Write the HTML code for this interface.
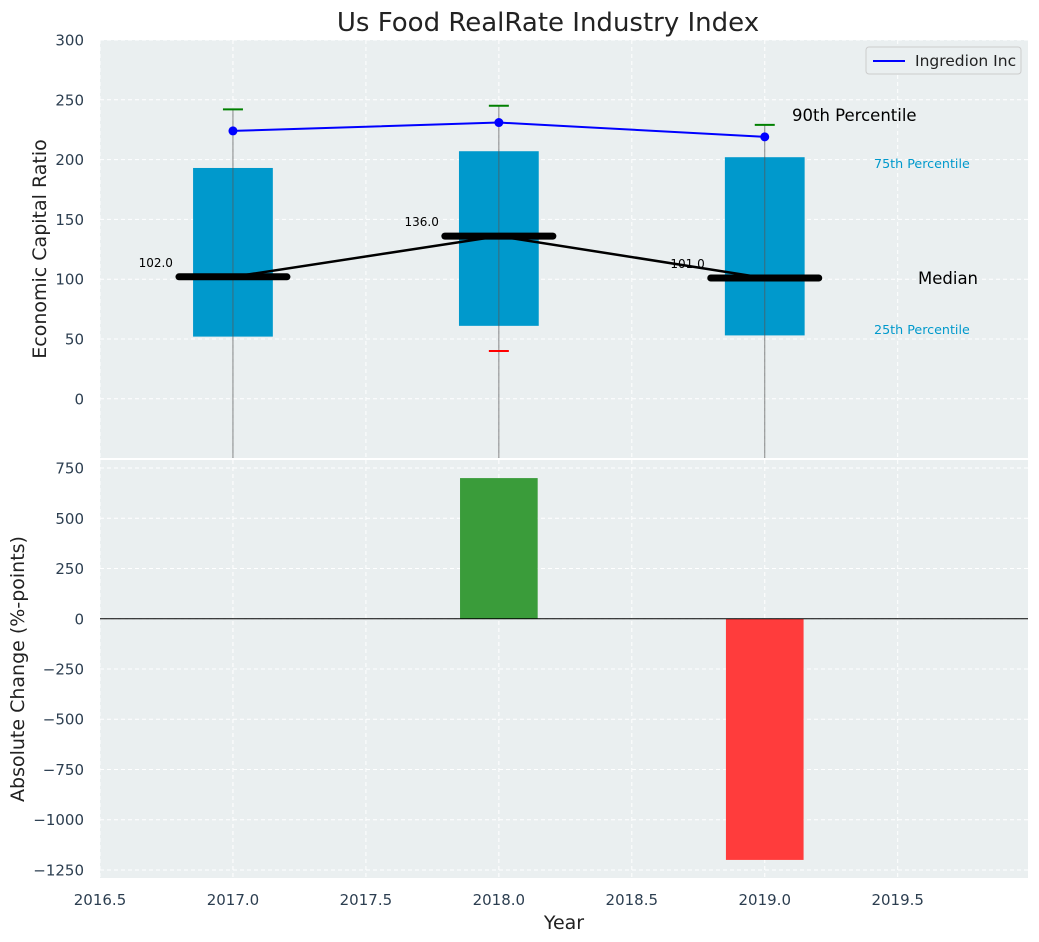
<!DOCTYPE html>
<html><head><meta charset="utf-8"><style>
body{margin:0;background:#fff;}
svg{display:block;font-family:"DejaVu Sans","Liberation Sans",sans-serif;}
</style></head><body>
<svg id="chart" width="1039" height="942" xmlns="http://www.w3.org/2000/svg">
<text x="548" y="31" font-size="26" text-anchor="middle" fill="#222">Us Food RealRate Industry Index</text>
<g id="topPanel"></g>
<g id="botPanel"></g>
</svg>
<script>
const years=[2017,2018,2019];
const q25=[52,61,53];
const q75=[193,207,202];
const medians=[102,136,101];
const p90=[242,245,229];
const p10=[null,40,null];
const company=[224,231,219];
const changeYears=[2018,2019];
const changes=[700,-1200];
const xTicks=[2016.5,2017,2017.5,2018,2018.5,2019,2019.5];
const yTopTicks=[0,50,100,150,200,250,300];
const yBotTicks=[-1250,-1000,-750,-500,-250,0,250,500,750];

const NS="http://www.w3.org/2000/svg";
const L=100,R=1028;
const xs=v=>L+(v-2016.5)/(2019.99-2016.5)*(R-L);
const T0=40,T1=458,ysT=v=>T0+(300-v)/(300-(-49.5))*(T1-T0);
const B0=460,B1=878,ysB=v=>B0+(790-v)/(790-(-1290))*(B1-B0);
function el(p,tag,a,txt){const e=document.createElementNS(NS,tag);for(const k in a)e.setAttribute(k,a[k]);if(txt!=null)e.textContent=txt;p.appendChild(e);return e;}
const svgRoot=document.getElementById('chart');
const topG=document.getElementById('topPanel'),botG=document.getElementById('botPanel');
function fmt(t){return t<0?'\u2212'+Math.abs(t):String(t);}
function panel(g,y0,y1,yt,ys,name){
  const bg=el(g,'rect',{x:L,y:y0,width:R-L,height:y1-y0,fill:'#eaeff0'});
  
  
  xTicks.forEach(t=>{const l=el(g,'line',{x1:xs(t),x2:xs(t),y1:y0,y2:y1,stroke:'#fff','stroke-dasharray':'4,3','stroke-width':1});
    
    });
  yt.forEach(t=>{const y=ys(t);const l=el(g,'line',{x1:L,x2:R,y1:y,y2:y,stroke:'#fff','stroke-dasharray':'4,3','stroke-width':1});
    
    
    const tx=el(g,'text',{x:L-16,y:y+5.5,'font-size':15,'text-anchor':'end',fill:'#2c3e50'},fmt(t));
    
    });
}
panel(topG,T0,T1,yTopTicks,ysT,'top');
panel(botG,B0,B1,yBotTicks,ysB,'bottom');
const bw=0.3;
years.forEach((yr,i)=>{
  const x=xs(yr),w=xs(yr+bw/2)-xs(yr-bw/2);
  const b=el(topG,'rect',{x:x-w/2,y:ysT(q75[i]),width:w,height:ysT(q25[i])-ysT(q75[i]),fill:'#0099cc'});
  
  
  const wl=el(topG,'line',{x1:x,x2:x,y1:T1,y2:ysT(p90[i]),stroke:'#555','stroke-opacity':0.7,'stroke-width':1});
  
  
  const c=el(topG,'line',{x1:x-10,x2:x+10,y1:ysT(p90[i]),y2:ysT(p90[i]),stroke:'green','stroke-width':2});
  
  
  if(p10[i]!=null){const c2=el(topG,'line',{x1:x-10,x2:x+10,y1:ysT(p10[i]),y2:ysT(p10[i]),stroke:'red','stroke-width':2});
    
    }
});
const mp=el(topG,'polyline',{points:years.map((y,i)=>xs(y)+','+ysT(medians[i])).join(' '),fill:'none',stroke:'#000','stroke-width':2.5});


years.forEach((yr,i)=>{
  const x=xs(yr),y=ysT(medians[i]);
  const m=el(topG,'line',{x1:x-54,x2:x+54,y1:y,y2:y,stroke:'#000','stroke-width':7,'stroke-linecap':'round'});
  
  
  const t=el(topG,'text',{x:x-60,y:y-10,'font-size':12,'text-anchor':'end',fill:'#000'},medians[i].toFixed(1));
  
  
});
const cl=el(topG,'polyline',{points:years.map((y,i)=>xs(y)+','+ysT(company[i])).join(' '),fill:'none',stroke:'blue','stroke-width':2});


years.forEach((yr,i)=>{const d=el(topG,'circle',{cx:xs(yr),cy:ysT(company[i]),r:4.5,fill:'blue'});
  
  });
[['90th Percentile',792,121,16.5,'#000'],['75th Percentile',874,168,12.7,'#0099cc'],['Median',918,284,16.5,'#000'],['25th Percentile',874,334,12.7,'#0099cc']].forEach(a=>{
  const t=el(topG,'text',{x:a[1],y:a[2],'font-size':a[3],fill:a[4]},a[0]);
  
  });
const lg=el(topG,'g',{});


el(lg,'rect',{x:866,y:47,width:155,height:27,rx:3,fill:'#eaeff0',stroke:'#ccc'});
el(lg,'line',{x1:873,x2:905,y1:61,y2:61,stroke:'blue','stroke-width':2});
el(lg,'text',{x:915,y:66,'font-size':15.5,fill:'#222'},'Ingredion Inc');
changeYears.forEach((yr,i)=>{
  const x=xs(yr),w=xs(yr+0.146)-xs(yr-0.146),v=changes[i];
  const r=el(botG,'rect',{x:x-w/2,y:Math.min(ysB(v),ysB(0)),width:w,height:Math.abs(ysB(v)-ysB(0)),fill:v>=0?'#3a9c3a':'#ff3c3c'});
  
  
});
const z=el(botG,'line',{x1:L,x2:R,y1:ysB(0),y2:ysB(0),stroke:'#000','stroke-width':1});


xTicks.forEach(t=>{const tx=el(botG,'text',{x:xs(t),y:905,'font-size':15,'text-anchor':'middle',fill:'#2c3e50'},t.toFixed(1));
  
  });
const xl=el(svgRoot,'text',{x:564,y:929,'font-size':19,'text-anchor':'middle',fill:'#222'},'Year');


const y1t=el(svgRoot,'text',{x:0,y:0,'font-size':19,'text-anchor':'middle',fill:'#222',transform:'translate(46,249) rotate(-90)'},'Economic Capital Ratio');


const y2t=el(svgRoot,'text',{x:0,y:0,'font-size':19,'text-anchor':'middle',fill:'#222',transform:'translate(24,669) rotate(-90)'},'Absolute Change (%-points)');


</script>
</body></html>
